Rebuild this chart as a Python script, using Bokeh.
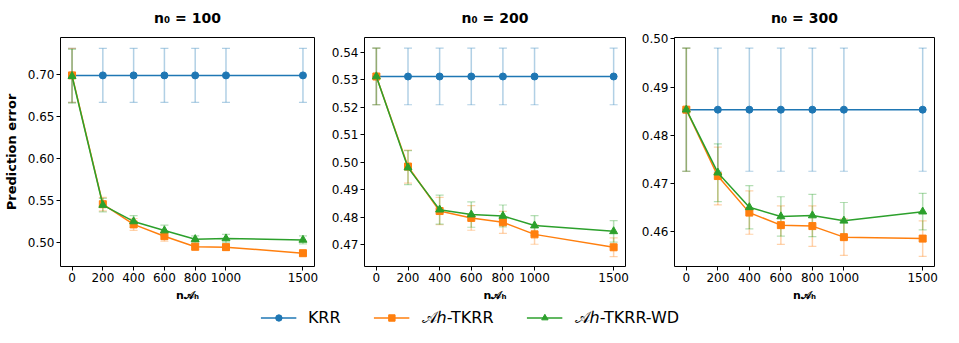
from bokeh.plotting import figure
from bokeh.models import (ColumnDataSource, Whisker, TeeHead, FixedTicker,
                          PrintfTickFormatter, Range1d, Legend, LegendItem)
from bokeh.layouts import row, column
from bokeh.embed import file_html
from bokeh.resources import INLINE

# ---------------- data ----------------
x_vals = [0, 200, 400, 600, 800, 1000, 1500]
x_ticks = [0, 200, 400, 600, 800, 1000, 1500]
titles = ["n\u2080 = 100", "n\u2080 = 200", "n\u2080 = 300"]
series_names = ["KRR", "\U0001D49C\u210E-TKRR", "\U0001D49C\u210E-TKRR-WD"]
x_label = "n\U0001D49C\u2095"
y_label = "Prediction error"

# n0 = 100
krr_100 = [0.699, 0.699, 0.699, 0.699, 0.699, 0.699, 0.699]
krr_100_err = [0.032, 0.032, 0.032, 0.032, 0.032, 0.032, 0.032]
tkrr_100 = [0.699, 0.546, 0.522, 0.508, 0.4955, 0.495, 0.4878]
tkrr_100_err = [0.032, 0.008, 0.007, 0.006, 0.004, 0.004, 0.0035]
wd_100 = [0.698, 0.545, 0.5255, 0.5147, 0.5044, 0.5052, 0.5036]
wd_100_err = [0.032, 0.008, 0.007, 0.0065, 0.004, 0.005, 0.0047]
yticks_100 = [0.50, 0.55, 0.60, 0.65, 0.70]
yrange_100 = [0.472, 0.744]

# n0 = 200
krr_200 = [0.5312, 0.5312, 0.5312, 0.5312, 0.5312, 0.5312, 0.5312]
krr_200_err = [0.0103, 0.0103, 0.0103, 0.0103, 0.0103, 0.0103, 0.0103]
tkrr_200 = [0.5312, 0.4984, 0.4822, 0.4797, 0.4781, 0.4737, 0.4690]
tkrr_200_err = [0.0103, 0.006, 0.005, 0.0045, 0.004, 0.0036, 0.0034]
wd_200 = [0.5312, 0.4980, 0.4827, 0.4809, 0.4804, 0.4769, 0.4748]
wd_200_err = [0.0103, 0.0062, 0.0053, 0.0046, 0.004, 0.0036, 0.0039]
yticks_200 = [0.47, 0.48, 0.49, 0.50, 0.51, 0.52, 0.53, 0.54]
yrange_200 = [0.4620, 0.5454]

# n0 = 300
krr_300 = [0.4853, 0.4853, 0.4853, 0.4853, 0.4853, 0.4853, 0.4853]
krr_300_err = [0.0128, 0.0128, 0.0128, 0.0128, 0.0128, 0.0128, 0.0128]
tkrr_300 = [0.4853, 0.4715, 0.4639, 0.4613, 0.4611, 0.4588, 0.4585]
tkrr_300_err = [0.0128, 0.006, 0.0045, 0.004, 0.0042, 0.0038, 0.0037]
wd_300 = [0.4853, 0.4722, 0.4650, 0.4631, 0.4633, 0.4622, 0.4641]
wd_300_err = [0.0128, 0.006, 0.0045, 0.0041, 0.0044, 0.0038, 0.0038]
yticks_300 = [0.46, 0.47, 0.48, 0.49, 0.50]
yrange_300 = [0.4527, 0.5003]

x_range = [-75, 1575]

colors = ["#1f77b4", "#ff7f0e", "#2ca02c"]
markers = ["circle", "square", "triangle"]
marker_sizes = [7, 7, 8]

FONT = "DejaVu Sans"


def make_panel(title, series, yticks, yrange, width, b_left, b_right, show_ylabel):
    p = figure(width=width, height=307, toolbar_location=None, output_backend="svg",
               x_range=Range1d(*x_range), y_range=Range1d(*yrange),
               min_border_left=b_left, min_border_right=b_right,
               min_border_top=37, min_border_bottom=41)
    p.title.text = title
    p.title.align = "center"
    p.title.vertical_align = "top"
    p.title.text_font = FONT
    p.title.text_font_size = "14px"
    p.title.text_font_style = "bold"
    p.title.text_color = "black"
    p.title.standoff = 19
    p.grid.visible = False
    p.outline_line_color = "black"
    p.outline_line_width = 1
    p.background_fill_color = "white"
    p.border_fill_color = "white"

    for ax in (p.xaxis[0], p.yaxis[0]):
        ax.axis_line_color = None
        ax.major_tick_out = 4
        ax.major_tick_in = 0
        ax.minor_tick_line_color = None
        ax.major_tick_line_color = "black"
        ax.major_label_text_font = FONT
        ax.major_label_text_font_size = "12px"
        ax.major_label_text_color = "black"
        ax.major_label_standoff = 2
        ax.axis_label_text_font = FONT
        ax.axis_label_text_font_style = "bold"
        ax.axis_label_text_color = "black"
    p.xaxis.ticker = FixedTicker(ticks=x_ticks)
    p.yaxis.ticker = FixedTicker(ticks=yticks)
    p.yaxis.formatter = PrintfTickFormatter(format="%.2f")
    p.xaxis.axis_label = x_label
    p.xaxis.axis_label_text_font_size = "11px"
    p.xaxis.axis_label_standoff = 4
    if show_ylabel:
        p.yaxis.axis_label = y_label
        p.yaxis.axis_label_text_font_size = "13px"
        p.yaxis.axis_label_standoff = 6

    for (vals, errs), c, m, s in zip(series, colors, markers, marker_sizes):
        src = ColumnDataSource(data=dict(
            x=x_vals, y=vals,
            upper=[v + e for v, e in zip(vals, errs)],
            lower=[v - e for v, e in zip(vals, errs)]))
        w = Whisker(source=src, base="x", upper="upper", lower="lower",
                    line_color=c, line_alpha=0.35, line_width=1.5,
                    upper_head=TeeHead(size=8, line_color=c, line_alpha=0.35, line_width=1.2),
                    lower_head=TeeHead(size=8, line_color=c, line_alpha=0.35, line_width=1.2))
        p.add_layout(w)
        p.line("x", "y", source=src, line_color=c, line_width=1.5)
        p.scatter("x", "y", source=src, marker=m, size=s, color=c)
    return p


series_100 = [(krr_100, krr_100_err), (tkrr_100, tkrr_100_err), (wd_100, wd_100_err)]
series_200 = [(krr_200, krr_200_err), (tkrr_200, tkrr_200_err), (wd_200, wd_200_err)]
series_300 = [(krr_300, krr_300_err), (tkrr_300, tkrr_300_err), (wd_300, wd_300_err)]

p1 = make_panel(titles[0], series_100, yticks_100, yrange_100, 319, 53, 5, True)
p2 = make_panel(titles[1], series_200, yticks_200, yrange_200, 311, 45, 5, False)
p3 = make_panel(titles[2], series_300, yticks_300, yrange_300, 309, 44, 5, False)

# legend strip (its renderers hold the n0=100 series but sit outside its ranges)
pl = figure(width=939, height=20, toolbar_location=None, output_backend="svg",
            x_range=Range1d(-3, -2), y_range=Range1d(-3, -2), min_border=0)
pl.axis.visible = False
pl.grid.visible = False
pl.outline_line_color = None
items = []
for name, (vals, _), c, m, s in zip(series_names, series_100, colors, markers, marker_sizes):
    lr = pl.line(x=x_vals, y=vals, line_color=c, line_width=1.5)
    sr = pl.scatter(x=x_vals, y=vals, marker=m, size=s, color=c)
    items.append(LegendItem(label=name, renderers=[lr, sr]))
leg = Legend(items=items, orientation="horizontal", location="center",
             glyph_width=36, glyph_height=16, label_standoff=12, spacing=33,
             padding=0, margin=0, border_line_color=None, background_fill_alpha=0,
             label_text_font=FONT, label_text_font_size="16px", label_text_color="black")
pl.add_layout(leg)

layout = column(row(p1, p2, p3), pl)
open("out.html", "w").write(file_html(layout, INLINE))
